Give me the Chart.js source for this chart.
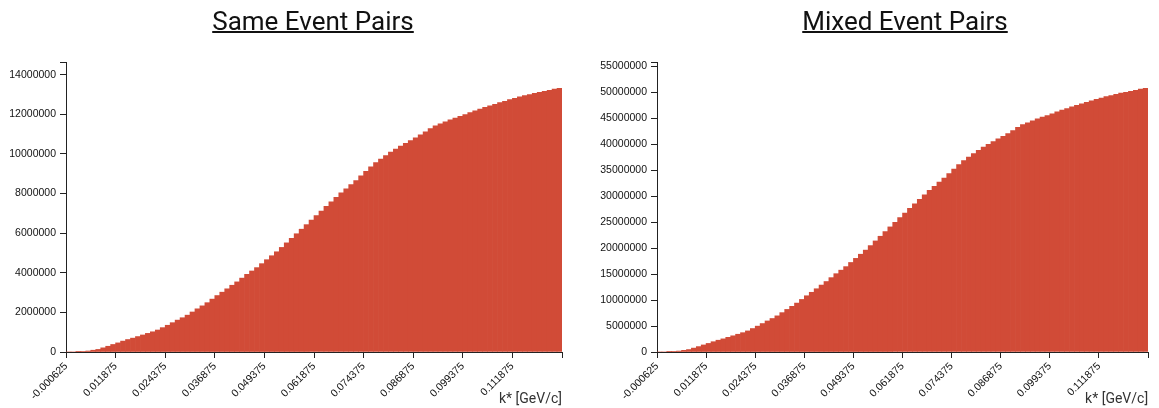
<!DOCTYPE html>
<html lang="en">
<head>
<meta charset="UTF-8" />
<title>k* pair distributions</title>
<script src="https://cdn.jsdelivr.net/npm/chart.js"></script>
<style>
  body { margin: 0; background: #fff; }
  .panel { position: absolute; top: 0; height: 408px; }
  .panel canvas { position: absolute; left: 0; top: 0; }
  .panel h2 {
    position: absolute;
    top: 8px;
    margin: 0;
    font-family: Roboto, sans-serif;
    font-size: 26px;
    line-height: 26px;
    font-weight: 400;
    color: #111;
    text-decoration: underline;
    text-decoration-thickness: 2px;
    transform: translateX(-50%);
    white-space: nowrap;
  }
</style>
</head>
<body>
<div class="panel" style="left:0;width:580px">
  <canvas id="sameChart" width="580" height="408"></canvas>
  <h2 style="left:313px">Same Event Pairs</h2>
</div>
<div class="panel" style="left:580px;width:579px">
  <canvas id="mixedChart" width="579" height="408"></canvas>
  <h2 style="left:325px">Mixed Event Pairs</h2>
</div>
<script>
// histogram binning in k* (GeV/c)
const binStart = -0.000625;
const binWidth = 0.00125;

const xTickLabels = ["-0.000625", "0.011875", "0.024375", "0.036875", "0.049375",
  "0.061875", "0.074375", "0.086875", "0.099375", "0.111875", ""];
const xTickValues = [-0.000625, 0.011875, 0.024375, 0.036875, 0.049375,
  0.061875, 0.074375, 0.086875, 0.099375, 0.111875, 0.124375];

const sameYTicks = [0, 2000000, 4000000, 6000000, 8000000, 10000000, 12000000, 14000000];
const mixedYTicks = [0, 5000000, 10000000, 15000000, 20000000, 25000000, 30000000,
  35000000, 40000000, 45000000, 50000000, 55000000];

// pair counts per bin, 100 bins
const sameCounts = [
  0, 0, 5000, 20000, 50000, 90000, 130000, 210000, 290000, 380000,
  460000, 550000, 630000, 700000, 780000, 860000, 940000, 1020000, 1110000, 1230000,
  1350000, 1480000, 1610000, 1730000, 1860000, 2020000, 2180000, 2330000, 2490000, 2670000,
  2850000, 3020000, 3190000, 3370000, 3540000, 3730000, 3920000, 4090000, 4260000, 4460000,
  4660000, 4860000, 5060000, 5280000, 5510000, 5740000, 5970000, 6200000, 6430000, 6660000,
  6890000, 7120000, 7350000, 7580000, 7810000, 8030000, 8240000, 8450000, 8660000, 8890000,
  9120000, 9350000, 9560000, 9740000, 9920000, 10090000, 10250000, 10400000, 10540000, 10680000,
  10810000, 10960000, 11120000, 11280000, 11420000, 11520000, 11620000, 11720000, 11810000, 11900000,
  11990000, 12090000, 12180000, 12260000, 12350000, 12430000, 12510000, 12590000, 12660000, 12740000,
  12810000, 12880000, 12940000, 13000000, 13060000, 13110000, 13160000, 13210000, 13270000, 13310000
];

const mixedCounts = [
  0, 0, 20000, 70000, 180000, 320000, 470000, 750000, 1040000, 1360000,
  1650000, 1980000, 2270000, 2530000, 2830000, 3120000, 3420000, 3720000, 4060000, 4520000,
  4980000, 5480000, 5980000, 6450000, 6960000, 7580000, 8200000, 8790000, 9420000, 10120000,
  10830000, 11500000, 12180000, 12890000, 13570000, 14320000, 15080000, 15760000, 16440000, 17240000,
  18030000, 18830000, 19620000, 20490000, 21390000, 22290000, 23190000, 24090000, 24990000, 25880000,
  26770000, 27660000, 28540000, 29420000, 30290000, 31120000, 31920000, 32710000, 33500000, 34370000,
  35230000, 36090000, 36880000, 37550000, 38220000, 38850000, 39440000, 40000000, 40510000, 41030000,
  41510000, 42070000, 42660000, 43260000, 43780000, 44150000, 44520000, 44880000, 45220000, 45550000,
  45880000, 46250000, 46580000, 46880000, 47210000, 47510000, 47810000, 48100000, 48360000, 48650000,
  48910000, 49170000, 49390000, 49620000, 49840000, 50020000, 50210000, 50390000, 50610000, 50770000
];

const barColor = "#d14b37";
const axisColor = "#222";
const tickFont = { family: "'Liberation Sans', Arial, sans-serif", size: 10.5 };

function makeHistogram(canvasId, counts, yTicks, axisWidth, padRight) {
  const points = counts.map((c, i) => ({ x: binStart + binWidth * (i + 0.5), y: c }));
  const yMax = Math.max(...counts) * 1.1;

  return new Chart(document.getElementById(canvasId), {
    type: "bar",
    data: {
      datasets: [{
        data: points,
        backgroundColor: barColor,
        borderWidth: 0,
        barPercentage: 1,
        categoryPercentage: 1,
      }],
    },
    options: {
      responsive: false,
      animation: false,
      events: [],
      layout: { padding: { left: 0, right: padRight, top: 62, bottom: 0 } },
      plugins: { legend: { display: false }, tooltip: { enabled: false } },
      scales: {
        x: {
          type: "linear",
          min: xTickValues[0],
          max: xTickValues[xTickValues.length - 1],
          offset: false,
          z: 1,
          grid: { offset: false, drawOnChartArea: false, tickLength: 6, color: axisColor },
          border: { color: axisColor },
          afterBuildTicks: (scale) => {
            scale.ticks = xTickValues.map((v) => ({ value: v }));
          },
          afterFit: (scale) => { scale.height = 56; },
          ticks: {
            autoSkip: false,
            minRotation: 45,
            maxRotation: 45,
            padding: 2,
            color: "#111",
            font: tickFont,
            callback: (value, index) => xTickLabels[index],
          },
          title: {
            display: true,
            text: "k* [GeV/c]",
            align: "end",
            color: "#333",
            font: { family: "Roboto, sans-serif", size: 14 },
            padding: { top: 0, bottom: 0 },
          },
        },
        y: {
          type: "linear",
          min: 0,
          max: yMax,
          z: 1,
          grid: { drawOnChartArea: false, tickLength: 6, color: axisColor },
          border: { color: axisColor },
          afterBuildTicks: (scale) => {
            scale.ticks = yTicks.map((v) => ({ value: v })).concat([{ value: yMax }]);
          },
          afterFit: (scale) => { scale.width = axisWidth; },
          ticks: {
            autoSkip: false,
            padding: 4,
            color: "#111",
            font: tickFont,
            callback: (value, index) => (index < yTicks.length ? String(value) : ""),
          },
        },
      },
    },
  });
}

makeHistogram("sameChart", sameCounts, sameYTicks, 66, 18);
makeHistogram("mixedChart", mixedCounts, mixedYTicks, 77, 6);
</script>
</body>
</html>
